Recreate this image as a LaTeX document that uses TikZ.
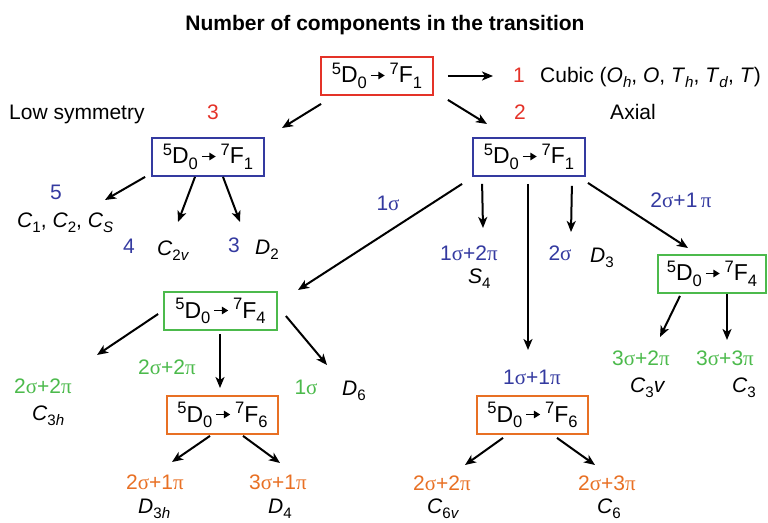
\documentclass[tikz,border=0pt]{standalone}
\usepackage{fontspec}
\setmainfont{Liberation Sans}
\newfontfamily\grk{Liberation Serif}
\usetikzlibrary{arrows.meta}
\definecolor{cred}{RGB}{228,50,40}
\definecolor{cblue}{RGB}{52,58,160}
\definecolor{cgreen}{RGB}{76,186,76}
\definecolor{corange}{RGB}{232,112,36}
\newcommand\sgm{{\grk σ}}
\newcommand\ppi{{\grk π}}
\newcommand\sbs[1]{\raisebox{-0.24em}{\scalebox{0.72}{#1}}}
\newcommand\sps[1]{\raisebox{0.36em}{\scalebox{0.72}{#1}}}
\newcommand\tarr{\tikz[baseline=-7.5pt]\draw[line width=1.9pt,-{Triangle[length=6.5pt,width=7.5pt]}] (0pt,0pt)--(14pt,0pt);}
\newcommand\trn[1]{\sps{5}D\sbs{0}\hspace{3pt}\tarr\hspace{4pt}\sps{7}F\sbs{#1}}
\newcommand\grp[2]{\textit{#1}\sbs{#2}}
\begin{document}
\begin{tikzpicture}[x=1pt,y=-1pt,
  tbox/.style={draw,line width=1.8pt,minimum width=112pt,minimum height=38pt,inner sep=0pt,font=\fontsize{23}{26}\selectfont},
  lab/.style={font=\fontsize{21}{24}\selectfont,inner sep=0pt,anchor=base},
  labw/.style={font=\fontsize{21}{24}\selectfont,inner sep=0pt,anchor=base west},
  arr/.style={line width=2pt,-{Stealth[length=11pt,width=9pt,inset=3pt]}}]
\useasboundingbox (0,0) rectangle (768,522);
% title
\node[lab,font=\fontsize{21}{24}\selectfont\bfseries] (title) at (385,30) {Number of components in the transition};
% boxes
\node[tbox,draw=cred] (rb) at (377,76) {\trn{1}};
\node[tbox,draw=cblue] (lb) at (208,157) {\trn{1}};
\node[tbox,draw=cblue] (cb) at (529,157) {\trn{1}};
\node[tbox,draw=cgreen,minimum width=113pt] (lg) at (220.5,311) {\trn{4}};
\node[tbox,draw=cgreen,minimum width=108pt] (rg) at (712,274) {\trn{4}};
\node[tbox,draw=corange,minimum width=111pt] (lo) at (222.5,415) {\trn{6}};
\node[tbox,draw=corange,minimum width=111pt] (co) at (532.5,415) {\trn{6}};
% top labels
\node[labw] (lowsym) at (9,119) {Low symmetry};
\node[lab,text=cred] (n3) at (213,119) {3};
\node[lab,text=cred] (n1) at (519,82) {1};
\node[labw] (cubic) at (540,82) {Cubic (\grp{O}{\textit{h}}, \textit{O}, \grp{T}{\textit{h}}, \grp{T}{\textit{d}}, \textit{T})};
\node[lab,text=cred] (n2) at (520,119) {2};
\node[lab] (axial) at (633,119) {Axial};
% low symmetry branch
\node[lab,text=cblue] (b5) at (56,199) {5};
\node[labw] (c1) at (17,227) {\grp{C}{1}, \grp{C}{2}, \grp{C}{\textit{S}}};
\node[lab,text=cblue] (b4) at (129,253) {4};
\node[labw] (c2v) at (157,255) {\grp{C}{2\textit{v}}};
\node[lab,text=cblue] (b3) at (234,252) {3};
\node[labw] (d2) at (255,254) {\grp{D}{2}};
% axial branch
\node[lab,text=cblue] (s1) at (388,210) {1\sgm};
\node[lab,text=cblue] (s21) at (681,207) {2\sgm+1\,\ppi};
\node[lab,text=cblue] (s12) at (469,260) {1\sgm+2\ppi};
\node[labw] (s4) at (468,283) {\grp{S}{4}};
\node[lab,text=cblue] (s2) at (560,260) {2\sgm};
\node[labw] (d3) at (590,262) {\grp{D}{3}};
\node[lab,text=cblue] (s11) at (532,384) {1\sgm+1\ppi};
% right green branch
\node[lab,text=cgreen] (g32) at (641,365) {3\sgm+2\ppi};
\node[lab,text=cgreen] (g33) at (725,365) {3\sgm+3\ppi};
\node[labw] (c3v) at (630,392) {\grp{C}{3}\textit{v}};
\node[labw] (c3) at (732,392) {\grp{C}{3}};
% left green branch
\node[lab,text=cgreen] (g22a) at (167,374) {2\sgm+2\ppi};
\node[lab,text=cgreen] (g22b) at (43,393) {2\sgm+2\ppi};
\node[labw] (c3h) at (32,420) {\grp{C}{3\textit{h}}};
\node[lab,text=cgreen] (g1) at (306,394) {1\sgm};
\node[labw] (d6) at (342,395) {\grp{D}{6}};
% orange branches
\node[lab,text=corange] (o21) at (155,489) {2\sgm+1\ppi};
\node[labw] (d3h) at (138,513) {\grp{D}{3\textit{h}}};
\node[lab,text=corange] (o31) at (278,489) {3\sgm+1\ppi};
\node[labw] (d4) at (268,513) {\grp{D}{4}};
\node[lab,text=corange] (o22) at (442,490) {2\sgm+2\ppi};
\node[labw] (c6v) at (427,513) {\grp{C}{6\textit{v}}};
\node[lab,text=corange] (o23) at (607,490) {2\sgm+3\ppi};
\node[labw] (c6) at (597,513) {\grp{C}{6}};
% arrow end points
\coordinate (e1) at (493,76);
\coordinate (e2) at (487,124);
\coordinate (e3) at (282,128);
\coordinate (e4) at (105,200);
\coordinate (e5) at (178,222);
\coordinate (e6) at (240,222);
\coordinate (e7) at (298,290);
\coordinate (e8) at (483,228);
\coordinate (e9) at (528,350);
\coordinate (e10) at (571,232);
\coordinate (e11) at (688,248);
\coordinate (e12) at (660,337);
\coordinate (e13) at (727,340);
\coordinate (e14) at (97,355);
\coordinate (e15) at (220,388);
\coordinate (e16) at (327,365);
\coordinate (e17) at (172,462);
\coordinate (e18) at (280,463);
\coordinate (e19) at (465,465);
\coordinate (e20) at (595,465);
% arrows
\draw[arr] ([shift={(14,0)}]rb.east) -- (e1);
\draw[arr] ([shift={(14,4)}]rb.south east) -- (e2);
\draw[arr] ([shift={(1,8)}]rb.south west) -- (e3);
\draw[arr] ([shift={(-6,0)}]lb.south west) -- (e4);
\draw[arr] ([shift={(-13,0)}]lb.south) -- (e5);
\draw[arr] ([shift={(15,0)}]lb.south) -- (e6);
\draw[arr] ([shift={(-10,7)}]cb.south west) -- (e7);
\draw[arr] ([shift={(10,7)}]cb.south west) -- (e8);
\draw[arr] ([shift={(-1,7)}]cb.south) -- (e9);
\draw[arr] ([shift={(-14,9)}]cb.south east) -- (e10);
\draw[arr] ([shift={(2,6)}]cb.south east) -- (e11);
\draw[arr] ([shift={(-32,2)}]rg.south) -- (e12);
\draw[arr] ([shift={(15,0)}]rg.south) -- (e13);
\draw[arr] ([shift={(-5,3)}]lg.west) -- (e14);
\draw[arr] ([shift={(-0.5,3)}]lg.south) -- (e15);
\draw[arr] ([shift={(8,5)}]lg.east) -- (e16);
\draw[arr] ([shift={(-12.5,1)}]lo.south) -- (e17);
\draw[arr] ([shift={(20.5,1)}]lo.south) -- (e18);
\draw[arr] ([shift={(-29.5,3)}]co.south) -- (e19);
\draw[arr] ([shift={(24.5,3)}]co.south) -- (e20);
\end{tikzpicture}
\end{document}
